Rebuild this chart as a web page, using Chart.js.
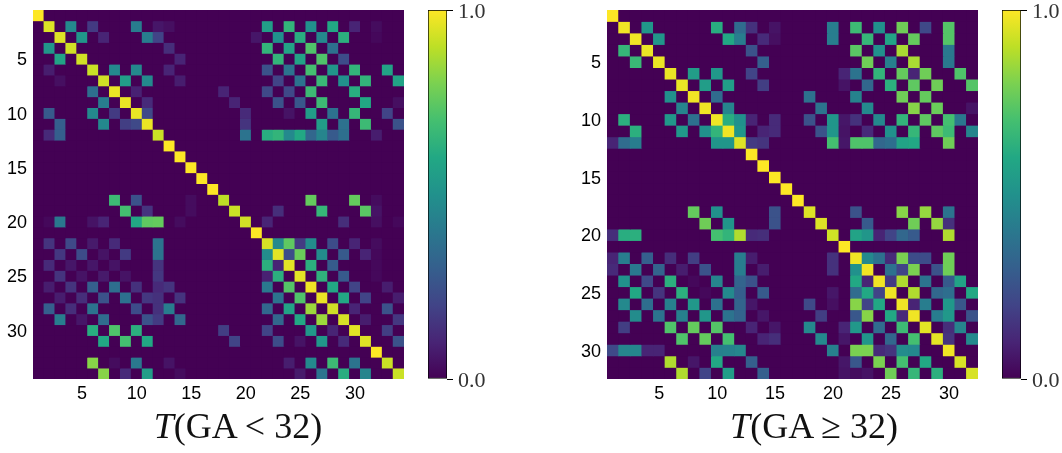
<!DOCTYPE html>
<html>
<head>
<meta charset="utf-8">
<title>T(GA) heatmaps</title>
<script src="https://cdn.jsdelivr.net/npm/chart.js@4"></script>
<style>
    html, body { margin: 0; padding: 0; background: #fff; }
    body { width: 1062px; height: 453px; position: relative; overflow: hidden; }
    .box { position: absolute; }
    .label { position: absolute; top: 405px; width: 400px; text-align: center; color: #111;
             font-family: "Liberation Serif", serif; font-size: 36px; white-space: nowrap; }
</style>
</head>
<body>
<div class="box" style="left:0;top:0;width:410px;height:406px"><canvas id="leftHeat"></canvas></div>
<div class="box" style="left:427px;top:0;width:80px;height:395px"><canvas id="leftBar"></canvas></div>
<div class="label" style="left:38px"><i>T</i>(GA &lt; 32)</div>

<div class="box" style="left:574px;top:0;width:410px;height:406px"><canvas id="rightHeat"></canvas></div>
<div class="box" style="left:1001px;top:0;width:61px;height:395px"><canvas id="rightBar"></canvas></div>
<div class="label" style="left:614px"><i>T</i>(GA ≥ 32)</div>

<script>
// each row lists its non-zero cells as [column, value], everything else is 0
const leftRows = [
    [[1,1]],
    [[2,.95],[4,.47],[6,.17],[10,.42],[12,.06],[13,.04],[22,.55],[24,.65],[26,.5],[28,.6],[30,.1],[32,.03]],
    [[3,.95],[5,.52],[7,.1],[11,.42],[12,.2],[21,.06],[23,.5],[25,.62],[27,.47],[29,.63],[32,.02]],
    [[2,.52],[4,.93],[13,.13],[22,.65],[24,.58],[26,.72],[28,.37]],
    [[3,.58],[5,.93],[14,.1],[23,.65],[25,.58],[27,.72],[29,.23]],
    [[2,.08],[6,.92],[8,.47],[10,.47],[13,.1],[22,.25],[24,.38],[26,.7],[28,.52],[30,.65],[33,.58]],
    [[3,.04],[7,.93],[9,.55],[11,.47],[14,.08],[23,.2],[25,.38],[27,.67],[29,.5],[31,.65],[34,.58]],
    [[6,.36],[8,.97],[10,.09],[18,.1],[22,.22],[24,.22],[26,.68],[30,.62]],
    [[7,.42],[9,.97],[11,.12],[19,.1],[23,.25],[25,.27],[27,.68],[31,.6],[34,.04]],
    [[2,.28],[6,.47],[8,.17],[10,.97],[11,.22],[20,.12],[24,.05],[26,.55],[28,.37],[30,.66],[33,.2]],
    [[3,.3],[7,.47],[9,.18],[10,.22],[11,.97],[20,.15],[27,.55],[29,.37],[31,.68],[34,.25]],
    [[2,.12],[3,.3],[12,.92],[20,.38],[22,.62],[23,.65],[24,.47],[25,.6],[26,.33],[27,.45],[28,.28],[29,.36],[32,.08]],
    [[13,1]],
    [[14,1]],
    [[15,1]],
    [[16,1]],
    [[17,1]],
    [[8,.68],[10,.25],[15,.03],[18,.9],[26,.76],[30,.76],[32,.03]],
    [[9,.7],[11,.15],[15,.03],[19,.92],[23,.13],[27,.66],[31,.74],[32,.05]],
    [[2,.02],[3,.4],[6,.05],[7,.1],[10,.6],[11,.75],[12,.76],[14,.03],[20,.93],[22,.1],[29,.13],[32,.04],[34,.02]],
    [[21,1]],
    [[2,.15],[4,.22],[6,.07],[8,.12],[12,.38],[22,.94],[23,.47],[24,.75],[25,.17],[26,.48],[28,.23],[30,.1],[32,.03]],
    [[3,.16],[5,.23],[7,.05],[9,.17],[12,.38],[22,.48],[23,.96],[24,.23],[25,.77],[27,.48],[29,.28],[31,.1],[32,.02]],
    [[2,.12],[4,.06],[6,.06],[8,.05],[12,.15],[22,.63],[23,.1],[24,.96],[26,.63],[28,.29],[32,.02]],
    [[3,.15],[5,.05],[7,.07],[9,.05],[12,.16],[22,.09],[23,.63],[25,.96],[27,.64],[29,.28],[32,.02]],
    [[2,.08],[4,.15],[6,.3],[8,.36],[10,.14],[12,.12],[13,.15],[22,.4],[24,.73],[26,.98],[28,.6],[30,.2],[33,.08]],
    [[3,.08],[5,.13],[7,.25],[9,.37],[11,.16],[12,.14],[14,.15],[23,.38],[25,.72],[27,.97],[29,.6],[31,.2],[34,.08]],
    [[2,.3],[4,.13],[6,.38],[10,.23],[12,.14],[13,.42],[22,.33],[24,.58],[26,.85],[28,.93],[30,.1],[33,.25]],
    [[3,.42],[5,.06],[7,.35],[11,.25],[12,.17],[14,.33],[23,.33],[25,.6],[27,.85],[29,.94],[31,.08],[34,.16]],
    [[6,.62],[8,.72],[10,.63],[18,.18],[22,.2],[26,.53],[28,.1],[30,.96],[33,.18]],
    [[7,.6],[9,.7],[11,.6],[19,.2],[23,.23],[25,.05],[27,.53],[29,.12],[31,.95],[34,.25]],
    [[32,1]],
    [[6,.82],[8,.03],[10,.4],[13,.05],[24,.08],[26,.47],[28,.68],[30,.38],[33,.92]],
    [[7,.82],[9,.12],[11,.55],[14,.03],[25,.07],[27,.38],[29,.62],[31,.45],[34,.92]]
];

const rightRows = [
    [[1,1]],
    [[2,.98],[4,.52],[10,.62],[12,.35],[13,.14],[15,.05],[20,.42],[22,.68],[24,.5],[26,.78],[28,.22],[30,.73]],
    [[3,.98],[5,.52],[11,.6],[12,.42],[14,.12],[15,.04],[20,.42],[23,.66],[25,.58],[27,.76],[30,.73]],
    [[2,.66],[4,.97],[13,.25],[22,.74],[24,.5],[26,.87],[30,.4]],
    [[3,.67],[5,.97],[14,.3],[23,.78],[25,.43],[27,.87],[30,.4]],
    [[6,.97],[8,.55],[10,.53],[13,.2],[21,.1],[22,.38],[24,.65],[26,.76],[27,.1],[28,.78],[31,.72]],
    [[7,.97],[9,.55],[11,.55],[14,.18],[21,.05],[23,.33],[25,.63],[27,.75],[29,.78],[32,.73]],
    [[6,.5],[8,.98],[10,.35],[18,.37],[22,.44],[26,.78],[28,.76]],
    [[7,.45],[9,.98],[11,.45],[19,.38],[23,.47],[27,.82],[29,.77],[32,.05]],
    [[2,.63],[6,.53],[8,.37],[10,.98],[11,.62],[12,.5],[13,.1],[15,.12],[18,.25],[20,.52],[21,.06],[22,.14],[24,.47],[26,.65],[28,.75],[30,.7],[31,.4]],
    [[3,.63],[7,.53],[9,.5],[10,.65],[11,.98],[12,.52],[14,.1],[15,.12],[19,.25],[20,.52],[21,.05],[23,.12],[25,.5],[27,.66],[29,.75],[30,.68],[32,.45]],
    [[1,.1],[2,.35],[3,.42],[10,.52],[11,.52],[12,.95],[13,.17],[14,.15],[20,.7],[21,.06],[22,.72],[23,.72],[24,.33],[25,.36],[26,.58],[27,.6],[30,.78]],
    [[13,1]],
    [[14,1]],
    [[15,1]],
    [[16,1]],
    [[17,1]],
    [[8,.76],[10,.5],[15,.25],[18,.95],[22,.25],[26,.82],[28,.84],[30,.38]],
    [[9,.78],[11,.52],[15,.25],[19,.95],[23,.28],[27,.78],[29,.84],[30,.14]],
    [[1,.13],[2,.62],[3,.63],[10,.7],[11,.65],[12,.88],[13,.12],[14,.13],[20,.93],[22,.58],[23,.52],[24,.1],[25,.2],[26,.33],[27,.28],[30,.88]],
    [[21,1]],
    [[1,.1],[2,.42],[4,.3],[6,.13],[8,.18],[12,.42],[13,.08],[20,.14],[22,.98],[23,.47],[24,.37],[25,.12],[26,.8],[27,.23],[28,.23],[30,.78]],
    [[1,.12],[3,.4],[5,.32],[7,.08],[9,.25],[12,.42],[14,.08],[20,.14],[22,.5],[23,.98],[25,.37],[26,.2],[27,.8],[29,.25],[30,.78]],
    [[2,.5],[4,.22],[6,.63],[8,.02],[10,.45],[12,.32],[13,.25],[22,.6],[23,.1],[24,.98],[25,.17],[26,.88],[28,.38],[30,.28],[31,.58]],
    [[3,.6],[5,.15],[7,.63],[9,.02],[11,.47],[12,.3],[14,.28],[20,.06],[22,.35],[23,.6],[24,.2],[25,.98],[27,.88],[29,.33],[30,.36],[32,.6]],
    [[2,.47],[4,.36],[6,.43],[8,.53],[10,.37],[12,.32],[13,.06],[18,.22],[20,.04],[22,.82],[23,.2],[24,.6],[26,.98],[27,.1],[28,.42],[30,.53],[31,.27]],
    [[3,.48],[5,.38],[7,.43],[9,.52],[11,.38],[12,.32],[14,.06],[19,.18],[22,.27],[23,.82],[25,.6],[26,.12],[27,.98],[29,.42],[30,.53],[32,.25]],
    [[2,.18],[6,.72],[8,.76],[10,.73],[13,.1],[15,.06],[18,.47],[21,.1],[22,.53],[24,.35],[26,.68],[28,.96],[30,.13],[31,.45]],
    [[7,.72],[9,.76],[11,.7],[14,.1],[15,.13],[19,.47],[21,.06],[23,.52],[25,.33],[27,.7],[29,.96],[30,.15],[32,.47]],
    [[1,.22],[2,.45],[3,.46],[4,.1],[5,.1],[10,.43],[11,.44],[12,.46],[20,.43],[22,.8],[23,.8],[24,.12],[25,.15],[26,.48],[27,.47],[30,.98]],
    [[6,.88],[8,.06],[10,.6],[13,.3],[21,.06],[22,.27],[24,.8],[26,.7],[28,.6],[31,.94]],
    [[7,.88],[9,.2],[11,.55],[14,.3],[21,.05],[22,.03],[23,.05],[25,.78],[27,.66],[29,.63],[32,.94]]
];

const axisTicks = [5, 10, 15, 20, 25, 30];
const colorbarTicks = [0, 1];
const viridis = ['#440154', '#482475', '#414487', '#355f8d', '#2a788e', '#21918c',
                 '#22a884', '#44bf70', '#7ad151', '#bddf26', '#fde725'];

function hexToRgb(hex) {
    return [1, 3, 5].map(i => parseInt(hex.substr(i, 2), 16));
}

function viridisColor(v) {
    const pos = v * (viridis.length - 1);
    const i = Math.min(Math.floor(pos), viridis.length - 2);
    const a = hexToRgb(viridis[i]);
    const b = hexToRgb(viridis[i + 1]);
    const t = pos - i;
    const c = a.map((x, k) => Math.round(x + (b[k] - x) * t));
    return `rgb(${c[0]},${c[1]},${c[2]})`;
}

// dark plot background so cell seams do not show white
const plotBackground = {
    id: 'plotBackground',
    beforeDatasetsDraw(chart) {
        const a = chart.chartArea;
        chart.ctx.fillStyle = viridis[0];
        chart.ctx.fillRect(a.left, a.top, a.right - a.left, a.bottom - a.top);
    }
};

// stop the tick labels from pushing the plot area around
function dropLabelPadding(scale) {
    scale.paddingTop = 0;
    scale.paddingBottom = 0;
    scale.paddingLeft = 0;
    scale.paddingRight = 0;
}

function drawHeatmap(id, rows) {
    const n = rows.length;
    const columns = rows.map((r, i) => i + 1);
    // one floating bar dataset per row, columns are the categories
    const datasets = rows.map((cells, r) => {
        const values = columns.map(() => 0);
        cells.forEach(c => { values[c[0] - 1] = c[1]; });
        return {
            data: values.map(() => [r + 0.5, r + 1.5]),
            backgroundColor: values.map(viridisColor),
            borderWidth: 0,
            barPercentage: 1,
            categoryPercentage: 1,
            grouped: false
        };
    });

    new Chart(document.getElementById(id), {
        type: 'bar',
        data: { labels: columns, datasets: datasets },
        plugins: [plotBackground],
        options: {
            responsive: true,
            maintainAspectRatio: false,
            animation: false,
            layout: { padding: { top: 10, right: 6 } },
            plugins: { legend: { display: false }, tooltip: { enabled: false } },
            scales: {
                x: {
                    grid: { display: false, tickLength: 4 },
                    border: { display: false },
                    afterFit(scale) { scale.height = 27; dropLabelPadding(scale); },
                    ticks: {
                        autoSkip: false,
                        maxRotation: 0,
                        padding: 0,
                        color: '#000',
                        font: { family: 'Liberation Sans', size: 18 },
                        callback(value) {
                            const label = this.getLabelForValue(value);
                            return axisTicks.includes(label) ? String(label) : '';
                        }
                    }
                },
                y: {
                    reverse: true,
                    min: 0.5,
                    max: n + 0.5,
                    grid: { display: false, tickLength: 6 },
                    border: { display: false },
                    afterFit(scale) { scale.width = 33; dropLabelPadding(scale); },
                    afterBuildTicks(scale) { scale.ticks = axisTicks.map(v => ({ value: v })); },
                    ticks: {
                        padding: 0,
                        labelOffset: 1.5,
                        color: '#000',
                        font: { family: 'Liberation Sans', size: 18 }
                    }
                }
            }
        }
    });
}

function drawColorbar(id) {
    new Chart(document.getElementById(id), {
        type: 'bar',
        data: {
            labels: [''],
            datasets: [{
                data: [[colorbarTicks[0], colorbarTicks[1]]],
                barPercentage: 1,
                categoryPercentage: 1,
                borderWidth: 1,
                borderColor: '#000',
                borderSkipped: false,
                backgroundColor(ctx) {
                    const a = ctx.chart.chartArea;
                    if (!a) return viridis[0];
                    const g = ctx.chart.ctx.createLinearGradient(0, a.bottom, 0, a.top);
                    viridis.forEach((c, i) => g.addColorStop(i / (viridis.length - 1), c));
                    return g;
                }
            }]
        },
        options: {
            responsive: true,
            maintainAspectRatio: false,
            animation: false,
            layout: { padding: { top: 10, left: 1, bottom: 16 } },
            plugins: { legend: { display: false }, tooltip: { enabled: false } },
            scales: {
                x: { display: false },
                y: {
                    position: 'right',
                    min: 0,
                    max: 1,
                    border: { display: false },
                    grid: { drawOnChartArea: false, tickLength: 6, color: '#000' },
                    afterFit(scale) {
                        scale.width = id === 'leftBar' ? 60 : 41;
                        dropLabelPadding(scale);
                    },
                    afterBuildTicks(scale) { scale.ticks = colorbarTicks.map(v => ({ value: v })); },
                    ticks: {
                        padding: 5,
                        labelOffset: 2,
                        color: '#333',
                        font: { family: 'Liberation Serif', size: 22 },
                        callback: v => v.toFixed(1)
                    }
                }
            }
        }
    });
}

drawHeatmap('leftHeat', leftRows);
drawColorbar('leftBar');
drawHeatmap('rightHeat', rightRows);
drawColorbar('rightBar');
</script>
</body>
</html>
